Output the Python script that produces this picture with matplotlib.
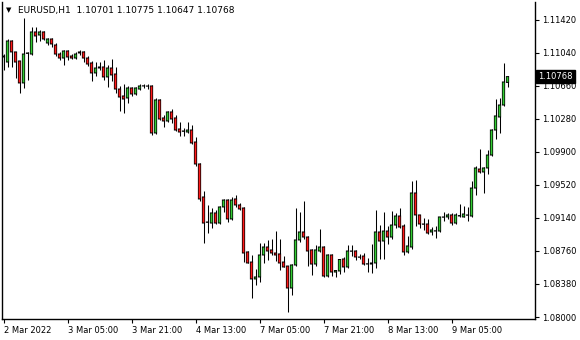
import matplotlib
matplotlib.use("Agg")
import matplotlib.pyplot as plt
from matplotlib.patches import Rectangle
import numpy as np

# EURUSD H1 bars (2 Mar 2022 -> 9 Mar 2022)
opens = [
    1.10994, 1.10936, 1.11178, 1.11052, 1.10948, 1.10695, 1.11035, 1.11028, 1.11282, 1.11247,
    1.11282, 1.11155, 1.11201, 1.11132, 1.11028, 1.10982, 1.11063, 1.11005, 1.10982, 1.11040,
    1.11052, 1.10982, 1.10925, 1.10810, 1.10879, 1.10879, 1.10764, 1.10867, 1.10798, 1.10625,
    1.10545, 1.10522, 1.10637, 1.10568, 1.10625, 1.10660, 1.10660, 1.10660, 1.10119, 1.10499,
    1.10292, 1.10257, 1.10361, 1.10292, 1.10165, 1.10142, 1.10130, 1.10153, 1.10015, 1.09762,
    1.09382, 1.09094, 1.09082, 1.09198, 1.09082, 1.09267, 1.09347, 1.09129, 1.09359, 1.09290,
    1.09255, 1.08749, 1.08633, 1.08438, 1.08461, 1.08714, 1.08806, 1.08772, 1.08737, 1.08726,
    1.08633, 1.08587, 1.08334, 1.08599, 1.08887, 1.08979, 1.08921, 1.08772, 1.08610, 1.08760,
    1.08806, 1.08472, 1.08714, 1.08518, 1.08530, 1.08668, 1.08576, 1.08760, 1.08760, 1.08691,
    1.08702, 1.08610, 1.08610, 1.08622, 1.08979, 1.08875, 1.08990, 1.08921, 1.09059, 1.09163,
    1.09048, 1.08749, 1.08806, 1.09428, 1.09175, 1.09071, 1.09071, 1.08979, 1.08990, 1.08990,
    1.09152, 1.09152, 1.09175, 1.09082, 1.09163, 1.09152, 1.09175, 1.09163, 1.09485, 1.09704,
    1.09670, 1.09716, 1.09865, 1.10153, 1.10303, 1.10441, 1.10701,
]
highs = [
    1.11028, 1.11201, 1.11190, 1.11052, 1.10948, 1.11443, 1.11052, 1.11339, 1.11339, 1.11305,
    1.11293, 1.11213, 1.11213, 1.11155, 1.11052, 1.11075, 1.11075, 1.11028, 1.11052, 1.11075,
    1.11063, 1.11005, 1.10948, 1.10936, 1.10936, 1.10959, 1.10902, 1.10971, 1.10879, 1.10660,
    1.10683, 1.10660, 1.10648, 1.10648, 1.10683, 1.10683, 1.10683, 1.10672, 1.10522, 1.10505,
    1.10326, 1.10372, 1.10395, 1.10326, 1.10245, 1.10176, 1.10245, 1.10211, 1.10073, 1.09768,
    1.09451, 1.09290, 1.09255, 1.09232, 1.09273, 1.09359, 1.09353, 1.09382, 1.09405, 1.09313,
    1.09262, 1.08755, 1.08714, 1.08553, 1.08852, 1.08852, 1.08887, 1.08898, 1.08990, 1.08898,
    1.08702, 1.08593, 1.08610, 1.09255, 1.09209, 1.09336, 1.08927, 1.08783, 1.08829, 1.09013,
    1.08812, 1.08726, 1.08720, 1.08541, 1.08668, 1.08691, 1.08829, 1.08829, 1.08772, 1.08726,
    1.08737, 1.08679, 1.08841, 1.09232, 1.09059, 1.09209, 1.09048, 1.09221, 1.09198, 1.09255,
    1.09071, 1.08933, 1.09566, 1.09578, 1.09180, 1.09140, 1.09129, 1.09036, 1.09048, 1.09157,
    1.09209, 1.09198, 1.09198, 1.09198, 1.09301, 1.09278, 1.09267, 1.09566, 1.09739, 1.09935,
    1.09727, 1.09923, 1.10165, 1.10510, 1.10522, 1.10925, 1.10775,
]
lows = [
    1.10844, 1.10879, 1.10879, 1.10752, 1.10579, 1.10637, 1.10729, 1.11017, 1.11167, 1.11178,
    1.11190, 1.11132, 1.11109, 1.11005, 1.10959, 1.10902, 1.10959, 1.10971, 1.10971, 1.11017,
    1.10936, 1.10890, 1.10718, 1.10775, 1.10844, 1.10729, 1.10648, 1.10718, 1.10579, 1.10372,
    1.10349, 1.10464, 1.10545, 1.10556, 1.10614, 1.10637, 1.10625, 1.10096, 1.10107, 1.10269,
    1.10188, 1.10245, 1.10234, 1.10142, 1.10084, 1.10084, 1.10119, 1.09995, 1.09739, 1.09336,
    1.08852, 1.08967, 1.09025, 1.09075, 1.09076, 1.09209, 1.09094, 1.09122, 1.09267, 1.09232,
    1.08633, 1.08617, 1.08219, 1.08368, 1.08403, 1.08622, 1.08656, 1.08714, 1.08645, 1.08541,
    1.08570, 1.08058, 1.08253, 1.08587, 1.08864, 1.08898, 1.08587, 1.08484, 1.08587, 1.08749,
    1.08461, 1.08461, 1.08467, 1.08461, 1.08495, 1.08518, 1.08564, 1.08702, 1.08656, 1.08668,
    1.08599, 1.08518, 1.08507, 1.08564, 1.08668, 1.08668, 1.08841, 1.08898, 1.09025, 1.09025,
    1.08714, 1.08737, 1.08783, 1.09048, 1.09025, 1.09002, 1.08956, 1.08944, 1.08910, 1.08975,
    1.09105, 1.09129, 1.09059, 1.09071, 1.09152, 1.09146, 1.09105, 1.09152, 1.09405, 1.09658,
    1.09428, 1.09647, 1.09854, 1.10050, 1.10119, 1.10430, 1.10647,
]
closes = [
    1.11005, 1.11178, 1.11052, 1.10936, 1.10695, 1.11028, 1.11040, 1.11282, 1.11236, 1.11282,
    1.11201, 1.11201, 1.11144, 1.11028, 1.10982, 1.11063, 1.10994, 1.10982, 1.11028, 1.11052,
    1.10982, 1.10913, 1.10810, 1.10867, 1.10867, 1.10764, 1.10867, 1.10787, 1.10625, 1.10533,
    1.10510, 1.10637, 1.10568, 1.10637, 1.10660, 1.10662, 1.10658, 1.10119, 1.10499, 1.10280,
    1.10257, 1.10361, 1.10280, 1.10153, 1.10130, 1.10138, 1.10153, 1.10004, 1.09762, 1.09359,
    1.09082, 1.09090, 1.09198, 1.09082, 1.09267, 1.09347, 1.09129, 1.09347, 1.09290, 1.09244,
    1.08737, 1.08622, 1.08438, 1.08461, 1.08714, 1.08806, 1.08760, 1.08737, 1.08714, 1.08622,
    1.08576, 1.08334, 1.08599, 1.08887, 1.08979, 1.08921, 1.08760, 1.08610, 1.08772, 1.08806,
    1.08472, 1.08714, 1.08518, 1.08535, 1.08662, 1.08576, 1.08760, 1.08757, 1.08691, 1.08688,
    1.08610, 1.08613, 1.08622, 1.08979, 1.08875, 1.08990, 1.08921, 1.09059, 1.09163, 1.09036,
    1.08749, 1.08818, 1.09428, 1.09175, 1.09071, 1.09068, 1.08967, 1.09002, 1.08993, 1.09152,
    1.09149, 1.09175, 1.09082, 1.09175, 1.09168, 1.09186, 1.09172, 1.09485, 1.09716, 1.09670,
    1.09716, 1.09865, 1.10153, 1.10315, 1.10441, 1.10706, 1.10768,
]

time_labels = ["2 Mar 2022", "3 Mar 05:00", "3 Mar 21:00", "4 Mar 13:00",
               "7 Mar 05:00", "7 Mar 21:00", "8 Mar 13:00", "9 Mar 05:00"]
price_ticks = [1.08000, 1.08380, 1.08760, 1.09140, 1.09520,
               1.09900, 1.10280, 1.10660, 1.11040, 1.11420]

SYMBOL = "EURUSD,H1"
UP = "#33cc33"
DOWN = "#ff1a1a"

plt.rcParams["font.family"] = "DejaVu Sans"

fig = plt.figure(figsize=(5.8, 3.4), dpi=100, facecolor="white")
ax = fig.add_axes([2 / 580, 21 / 340, 533 / 580, 317 / 340])
# 4 px per bar, bar centres on pixel centres
ax.set_xlim(-0.375, 132.875)
ax.set_ylim(1.07977, 1.11627)

# one screen pixel in price units, used to give the body a 1px black frame
px = (1.11627 - 1.07977) / 317

idx = np.arange(len(opens))
ax.vlines(idx, lows, highs, color="black", linewidth=0.75, zorder=2)
for i, (o, c) in enumerate(zip(opens, closes)):
    lo, hi = min(o, c), max(o, c)
    ax.add_patch(Rectangle((i - 0.4, lo - 0.5 * px), 0.8, hi - lo + px,
                           facecolor="black", edgecolor="none", zorder=3, snap=False))
    if hi - lo > 1.2 * px:
        ax.add_patch(Rectangle((i - 0.21, lo + 0.5 * px), 0.42, hi - lo - px,
                               facecolor=UP if c >= o else DOWN,
                               edgecolor="none", zorder=4, snap=False))

ax.yaxis.tick_right()
ax.set_yticks(price_ticks)
ax.set_yticklabels([f"{p:.5f}" for p in price_ticks])
ax.set_xticks(np.arange(len(time_labels)) * 16)
ax.set_xticklabels(time_labels, ha="left")
ax.tick_params(axis="both", length=3, width=0.8, labelsize=6, pad=2, colors="black")

for side in ("left", "bottom", "right"):
    ax.spines[side].set_linewidth(1)
    ax.spines[side].set_color("black")
ax.spines["top"].set_visible(False)

# last price marker
ax.text(1.006, closes[-1], f"{closes[-1]:.5f}", transform=ax.get_yaxis_transform(),
        ha="left", va="center", fontsize=6, color="white", clip_on=False, zorder=10,
        bbox=dict(boxstyle="square,pad=0.25", facecolor="black", edgecolor="black"))

# header line
fig.text(6 / 580, 1 - 10 / 340, "\u25bc", fontsize=5, va="center", ha="left")
fig.text(18 / 580, 1 - 10 / 340,
         f"{SYMBOL}  {opens[-1]:.5f} {highs[-1]:.5f} {lows[-1]:.5f} {closes[-1]:.5f}",
         fontsize=6.5, va="center", ha="left")

fig.savefig("out.png", dpi=100, facecolor="white")
